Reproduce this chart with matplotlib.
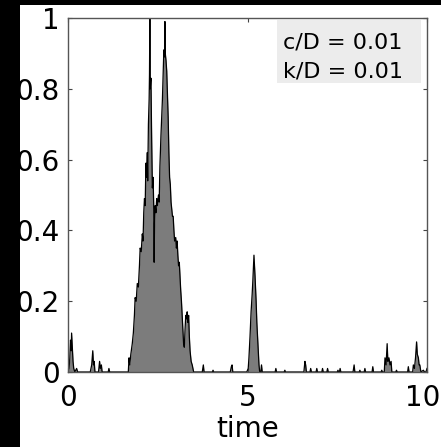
import matplotlib
matplotlib.use("Agg")
import matplotlib.pyplot as plt
from matplotlib.patches import Rectangle
from matplotlib.transforms import ScaledTranslation

# values
time = [0.00, 0.03, 0.05, 0.07, 0.09, 0.10, 0.12, 0.14, 0.16, 0.19, 0.24, 0.27,
        0.62, 0.66, 0.69, 0.71, 0.73, 0.75, 0.85, 0.88, 0.90, 0.93, 0.95,
        1.12, 1.14, 1.16,
        1.66, 1.68, 1.70, 1.72, 1.75, 1.79, 1.82, 1.85, 1.87, 1.90, 1.93, 1.96,
        1.99, 2.01, 2.04, 2.07, 2.09, 2.11, 2.13, 2.15, 2.17, 2.19, 2.21, 2.22,
        2.24, 2.26, 2.27, 2.28, 2.29, 2.31, 2.33, 2.35, 2.37, 2.39, 2.40, 2.41,
        2.43, 2.45, 2.47, 2.49, 2.52, 2.54, 2.56, 2.59, 2.61, 2.63, 2.65, 2.67,
        2.69, 2.70, 2.71, 2.73, 2.75, 2.77, 2.79, 2.81, 2.83, 2.85, 2.87, 2.89,
        2.91, 2.93, 2.95, 2.97, 3.00, 3.02, 3.04, 3.06, 3.08, 3.10, 3.12, 3.14,
        3.16, 3.18, 3.20, 3.22, 3.24, 3.26, 3.28, 3.30, 3.32, 3.34, 3.36, 3.38,
        3.40, 3.43, 3.46, 3.50,
        3.74, 3.77, 3.79, 4.02, 4.04, 4.06, 4.52, 4.55, 4.57, 4.59,
        4.98, 5.02, 5.04, 5.07, 5.10, 5.13, 5.15, 5.18, 5.21, 5.24, 5.26, 5.29,
        5.32, 5.34, 5.37, 5.39, 5.41, 5.77, 5.79, 5.81, 6.02, 6.04, 6.06,
        6.57, 6.60, 6.62, 6.64, 6.74, 6.76, 6.78, 6.91, 6.93, 6.95, 7.07, 7.09,
        7.11, 7.21, 7.23, 7.25, 7.50, 7.52, 7.54, 7.56, 7.58, 7.60, 7.94, 7.97,
        7.99, 8.11, 8.13, 8.15, 8.25, 8.27, 8.29, 8.47, 8.49, 8.51, 8.72, 8.74,
        8.76, 8.81, 8.83, 8.86, 8.89, 8.91, 8.94, 8.97, 9.00, 9.02, 9.13, 9.15,
        9.17, 9.46, 9.48, 9.50, 9.60, 9.62, 9.65, 9.68, 9.71, 9.73, 9.76, 9.78,
        9.80, 9.83, 9.90, 9.93, 9.97, 10.0]

level = [0.0, 0.01, 0.04, 0.09, 0.06, 0.11, 0.07, 0.03, 0.01, 0.0, 0.01, 0.0,
         0.0, 0.02, 0.06, 0.02, 0.03, 0.0, 0.0, 0.03, 0.01, 0.02, 0.0,
         0.0, 0.01, 0.0,
         0.0, 0.0, 0.04, 0.02, 0.05, 0.08, 0.11, 0.16, 0.21, 0.20, 0.25, 0.24,
         0.30, 0.35, 0.34, 0.39, 0.37, 0.45, 0.49, 0.47, 0.59, 0.55, 0.62, 0.54,
         0.70, 0.77, 0.84, 1.00, 0.80, 0.83, 0.66, 0.52, 0.55, 0.46, 0.31, 0.42,
         0.47, 0.45, 0.49, 0.47, 0.50, 0.48, 0.58, 0.67, 0.72, 0.77, 0.84, 0.91,
         0.89, 0.99, 0.90, 0.88, 0.85, 0.78, 0.72, 0.62, 0.55, 0.53, 0.48, 0.46,
         0.44, 0.44, 0.40, 0.37, 0.38, 0.35, 0.37, 0.33, 0.30, 0.31, 0.27, 0.23,
         0.20, 0.16, 0.12, 0.08, 0.07, 0.12, 0.16, 0.15, 0.17, 0.14, 0.16, 0.10,
         0.06, 0.03, 0.02, 0.0,
         0.0, 0.02, 0.0, 0.0, 0.005, 0.0, 0.0, 0.015, 0.02, 0.0,
         0.0, 0.01, 0.04, 0.10, 0.17, 0.22, 0.26, 0.33, 0.27, 0.20, 0.14, 0.08,
         0.02, 0.0, 0.0, 0.02, 0.0, 0.0, 0.01, 0.0, 0.0, 0.005, 0.0,
         0.0, 0.03, 0.02, 0.0, 0.0, 0.01, 0.0, 0.0, 0.01, 0.0, 0.0, 0.01,
         0.0, 0.0, 0.01, 0.0, 0.0, 0.005, 0.0, 0.0, 0.01, 0.0, 0.0, 0.02,
         0.0, 0.0, 0.005, 0.0, 0.0, 0.01, 0.0, 0.0, 0.015, 0.0, 0.0, 0.005,
         0.0, 0.0, 0.04, 0.02, 0.08, 0.03, 0.04, 0.02, 0.03, 0.0, 0.0, 0.005,
         0.0, 0.0, 0.015, 0.0, 0.0, 0.02, 0.01, 0.04, 0.085, 0.05, 0.04, 0.02,
         0.02, 0.0, 0.005, 0.0, 0.0, 0.01]

xticks = [0, 5, 10]
yticks = [0, 0.2, 0.4, 0.6, 0.8, 1]
ytick_labels = ["0", "0.2", "0.4", "0.6", "0.8", "1"]
info = ["c/D = 0.01", "k/D = 0.01"]

fig = plt.figure(figsize=(4.41, 4.47), dpi=100, facecolor="white")
# black bands on the left and top edges of the picture
fig.patches.append(Rectangle((0, 0), 20 / 441, 1, transform=fig.transFigure,
                             facecolor="black", edgecolor="none", zorder=-1))
fig.patches.append(Rectangle((0, 1 - 5 / 447), 1, 5 / 447, transform=fig.transFigure,
                             facecolor="black", edgecolor="none", zorder=-1))

ax = fig.add_axes([68 / 441, 75 / 447, 359 / 441, 354 / 447])
ax.fill_between(time, level, 0, color="#7c7c7c", linewidth=0)
ax.plot(time, level, color="black", linewidth=0.9)

ax.set_xlim(0, 10)
ax.set_ylim(0, 1)
ax.set_xticks(xticks)
ax.set_yticks(yticks)
ax.set_yticklabels(ytick_labels)
ax.tick_params(direction="in", length=3, width=0.8, color="#444444",
               top=True, right=True, labelsize=20)
ax.tick_params(axis="y", pad=6)
ax.tick_params(axis="x", pad=9)
for s in ax.spines.values():
    s.set_color("#555555")
    s.set_linewidth(1.0)
ax.set_xlabel("time", fontsize=20, labelpad=2)

# nudge "10" left a little so it stays inside the picture
fig.canvas.draw()
last = ax.get_xticklabels()[-1]
last.set_transform(last.get_transform() + ScaledTranslation(-4 / 100, 0, fig.dpi_scale_trans))

# parameter box
ax.add_patch(Rectangle((0.582, 0.816), 0.401, 0.178, transform=ax.transAxes,
                       facecolor="#ececec", edgecolor="none", zorder=3))
ax.text(0.60, 0.913, info[0], transform=ax.transAxes, fontsize=16,
        va="baseline", zorder=4)
ax.text(0.60, 0.831, info[1], transform=ax.transAxes, fontsize=16,
        va="baseline", zorder=4)

fig.savefig("out.png", dpi=100, facecolor=fig.get_facecolor())
